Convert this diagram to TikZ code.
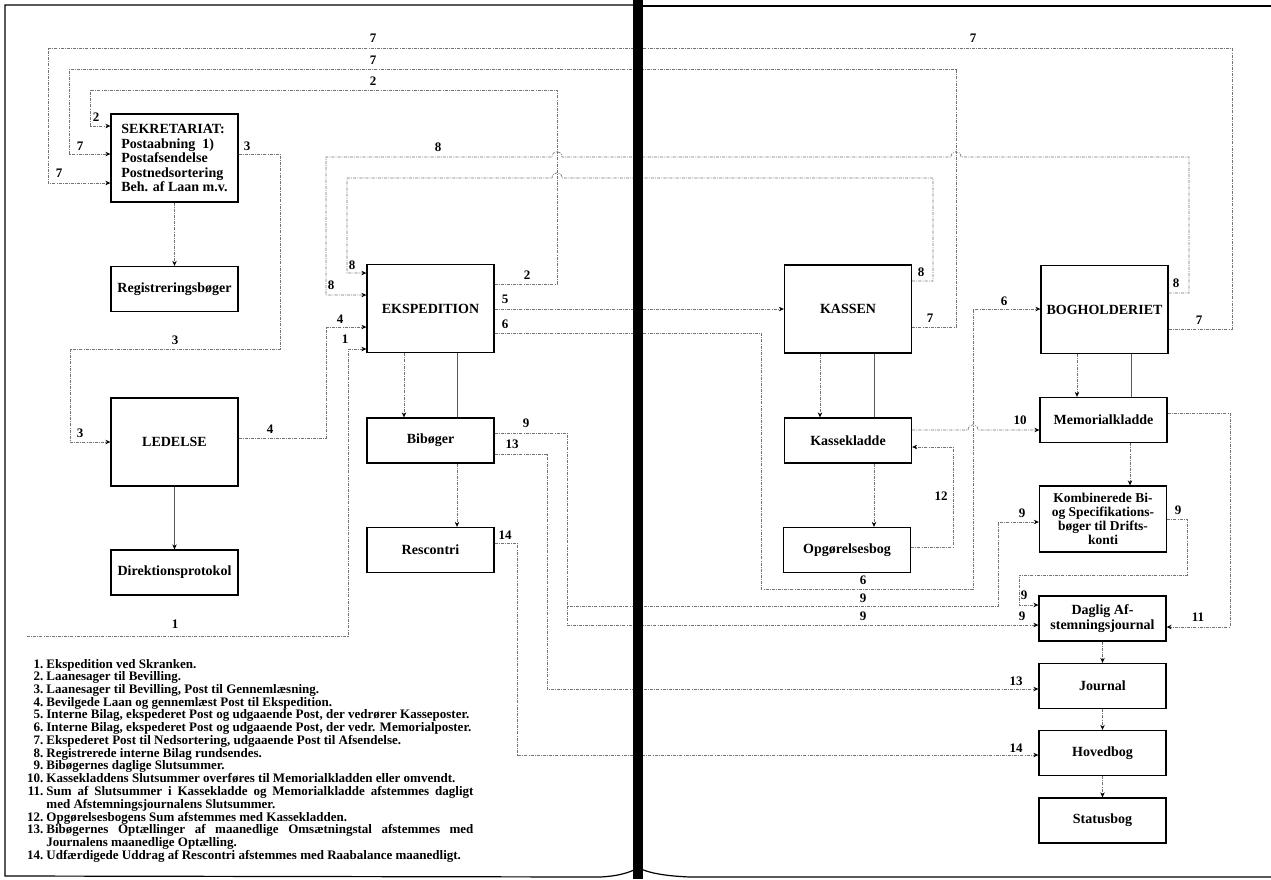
\documentclass[tikz,border=0pt]{standalone}
\usepackage{fontspec}
\setmainfont{Liberation Serif}
\usetikzlibrary{arrows.meta}

\tikzset{
  box/.style={draw, line width=1.3pt, minimum width=127pt, minimum height=45pt,
    inner sep=2pt, align=center, font=\fontsize{14}{14.5}\selectfont\bfseries},
  bigbox/.style={box, minimum height=88pt},
  flow/.style={black!55, line width=0.7pt, dash pattern=on 3pt off 1.2pt on 0.8pt off 1.2pt},
  link/.style={black!65, line width=0.7pt},
  pointer/.style={-{Stealth[length=5pt,width=4.5pt,color=black]}},
  num/.style={font=\fontsize{13}{13}\selectfont\bfseries, inner sep=0pt},
  frame/.style={line width=1.2pt},
}

\newlength{\lgw}
\setlength{\lgw}{427pt}

\begin{document}
\begin{tikzpicture}[x=1pt,y=-1pt]
  \useasboundingbox (0,0) rectangle (1271,879);
  \fill[white] (0,0) rectangle (1271,879);

  % pages
  \draw[frame] (633,5) -- (5,5) -- (5,876) -- (600,877) .. controls (620,876) and (630,872) .. (636,869);
  \draw[frame] (643,6) -- (1271,6);
  \draw[frame] (641,869) .. controls (650,873) and (665,876) .. (690,877) -- (1271,877);

  % left page
  \node[bigbox, align=left] (sekr) at (174.5,158) {SEKRETARIAT:\\Postaabning\ \ 1)\\Postafsendelse\\Postnedsortering\\Beh. af Laan m.v.};
  \node[box] (reg) at (174.5,289) {Registreringsbøger};
  \node[bigbox] (led) at (174.5,442) {LEDELSE};
  \node[box] (dir) at (174.5,572.5) {Direktionsprotokol};
  \node[bigbox] (eksp) at (430.5,308.5) {EKSPEDITION};
  \node[box] (bib) at (430.5,440.5) {Bibøger};
  \node[box] (resc) at (430.5,550) {Rescontri};

  % right page
  \node[bigbox] (kassen) at (848,309) {KASSEN};
  \node[box] (kladde) at (848,440.5) {Kassekladde};
  \node[box] (opg) at (847,550) {Opgørelsesbog};
  \node[bigbox] (bogh) at (1104.5,309.5) {BOGHOLDERIET};
  \node[box] (memo) at (1103.5,420) {Memorialkladde};
  \node[box, minimum height=66pt, font=\fontsize{13.5}{14}\selectfont\bfseries] (komb) at (1103,519) {Kombinerede Bi-\\og Specifikations-\\bøger til Drifts-\\konti};
  \node[box] (dag) at (1102.5,618.5) {Daglig Af-\\stemningsjournal};
  \node[box] (journal) at (1102.5,686) {Journal};
  \node[box] (hoved) at (1102.5,753) {Hovedbog};
  \node[box] (status) at (1102.5,820.5) {Statusbog};

  \coordinate (skranke) at (27,636);
  \coordinate (b9) at (567,606);

  % flows
  \draw[flow,pointer] (bogh.east |- 0,329) -| (1232,48) -| (48,183) -- (sekr.west |- 0,183);
  \draw[flow,pointer] (kassen.east |- 0,327) -| (956,69) -| (69,154) -- (sekr.west |- 0,154);
  \draw[flow,pointer] (eksp.east |- 0,284) -| (557,90) -| (90,126) -- (sekr.west |- 0,126);
  \draw[flow,pointer] (bogh.east |- 0,293) -| (1189,157) -- (961,157)
    .. controls (961,150) and (951,150) .. (951,157) -- (562,157)
    .. controls (562,150) and (552,150) .. (552,157) -| (326,295) -- (eksp.west |- 0,295);
  \draw[flow,pointer] (kassen.east |- 0,281) -| (933,178) -- (562,178)
    .. controls (562,171) and (552,171) .. (552,178) -| (347,273) -- (eksp.west |- 0,273);
  \draw[flow,pointer] (sekr.east |- 0,154) -| (280,349) -| (70,442) -- (led.west |- 0,442);
  \draw[flow,pointer] (led.east |- 0,438) -| (326,327) -- (eksp.west |- 0,327);
  \draw[flow,pointer] (skranke) -| (348,349) -- (eksp.west |- 0,349);
  \draw[flow,pointer] (eksp.east |- 0,309) -- (kassen.west |- 0,309);
  \draw[flow,pointer] (eksp.east |- 0,333) -| (761,589) -| (973,309) -- (bogh.west |- 0,309);
  \draw[flow,pointer] (kladde.east |- 0,430) -- (968,430)
    .. controls (968,423) and (978,423) .. (978,430) -- (memo.west |- 0,430);
  \draw[flow,pointer] (opg.east |- 0,547) -| (953,447) -- (kladde.east |- 0,447);
  \draw[flow,pointer] (bib.east |- 0,433) -| (b9) -| (998,522) -- (komb.west |- 0,522);
  \draw[flow,pointer] (b9) |- (dag.west |- 0,625);
  \draw[flow,pointer] (komb.east |- 0,519) -| (1187,575) -| (1019,605) -- (dag.west |- 0,605);
  \draw[flow,pointer] (memo.east |- 0,413) -| (1230,627) -- (dag.east |- 0,627);
  \draw[flow,pointer] (bib.east |- 0,454) -| (547,689) -- (journal.west |- 0,689);
  \draw[flow,pointer] (resc.east |- 0,543) -| (517,755) -- (hoved.west |- 0,755);

  % downward
  \draw[flow,pointer] (sekr.south) -- (reg.north);
  \draw[link,pointer] (led.south) -- (dir.north);
  \draw[flow,pointer] (eksp.south -| 404,0) -- (bib.north -| 404,0);
  \draw[link] (eksp.south -| 457,0) -- (bib.north -| 457,0);
  \draw[flow,pointer] (bib.south -| 457,0) -- (resc.north -| 457,0);
  \draw[flow,pointer] (kassen.south -| 820,0) -- (kladde.north -| 820,0);
  \draw[link] (kassen.south -| 874,0) -- (kladde.north -| 874,0);
  \draw[flow,pointer] (kladde.south -| 874,0) -- (opg.north -| 874,0);
  \draw[flow,pointer] (bogh.south -| 1077,0) -- (memo.north -| 1077,0);
  \draw[link] (bogh.south -| 1131,0) -- (memo.north -| 1131,0);
  \draw[flow,pointer] (memo.south -| 1130,0) -- (komb.north -| 1130,0);
  \draw[flow,pointer] (dag.south) -- (journal.north);
  \draw[flow,pointer] (journal.south) -- (hoved.north);
  \draw[flow,pointer] (hoved.south) -- (status.north);

  % numbers
  \node[num] at (373,38) {7};
  \node[num] at (373,60) {7};
  \node[num] at (373,81) {2};
  \node[num] at (973,38) {7};
  \node[num] at (59,173) {7};
  \node[num] at (80,146) {7};
  \node[num] at (96,117) {2};
  \node[num] at (247,146) {3};
  \node[num] at (438,147) {8};
  \node[num] at (527,275) {2};
  \node[num] at (352,265) {8};
  \node[num] at (331,285) {8};
  \node[num] at (505,299) {5};
  \node[num] at (505,324) {6};
  \node[num] at (340,319) {4};
  \node[num] at (345,339) {1};
  \node[num] at (175,340) {3};
  \node[num] at (80,433) {3};
  \node[num] at (270,429) {4};
  \node[num] at (175,624) {1};
  \node[num] at (526,423) {9};
  \node[num] at (512,444) {13};
  \node[num] at (505,535) {14};
  \node[num] at (921,272) {8};
  \node[num] at (930,318) {7};
  \node[num] at (1176,283) {8};
  \node[num] at (1199,320) {7};
  \node[num] at (1004,301) {6};
  \node[num] at (1020,420) {10};
  \node[num] at (941,496) {12};
  \node[num] at (1022,513) {9};
  \node[num] at (1178,510) {9};
  \node[num] at (863,580) {6};
  \node[num] at (863,598) {9};
  \node[num] at (863,616) {9};
  \node[num] at (1024,595) {9};
  \node[num] at (1022,616) {9};
  \node[num] at (1198,617) {11};
  \node[num] at (1016,681) {13};
  \node[num] at (1016,748) {14};

  % legend
  \node[anchor=north west, inner sep=0pt, font=\fontsize{13}{12.2}\selectfont\bfseries] (legend) at (27,659) {%
    \begin{tabular}{@{}r@{\hspace{3pt}}l@{}}
      1. & Ekspedition ved Skranken.\\
      2. & Laanesager til Bevilling.\\
      3. & Laanesager til Bevilling, Post til Gennemlæsning.\\
      4. & Bevilgede Laan og gennemlæst Post til Ekspedition.\\
      5. & Interne Bilag, ekspederet Post og udgaaende Post, der vedrører Kasseposter.\\
      6. & Interne Bilag, ekspederet Post og udgaaende Post, der vedr. Memorialposter.\\
      7. & Ekspederet Post til Nedsortering, udgaaende Post til Afsendelse.\\
      8. & Registrerede interne Bilag rundsendes.\\
      9. & Bibøgernes daglige Slutsummer.\\
      10. & Kassekladdens Slutsummer overføres til Memorialkladden eller omvendt.\\
      11. & \makebox[\lgw][s]{Sum af Slutsummer i Kassekladde og Memorialkladde afstemmes dagligt}\\
          & med Afstemningsjournalens Slutsummer.\\
      12. & Opgørelsesbogens Sum afstemmes med Kassekladden.\\
      13. & \makebox[\lgw][s]{Bibøgernes Optællinger af maanedlige Omsætningstal afstemmes med}\\
          & Journalens maanedlige Optælling.\\
      14. & Udfærdigede Uddrag af Rescontri afstemmes med Raabalance maanedligt.
    \end{tabular}};

  % spine
  \fill (633,0) rectangle (643,879);
\end{tikzpicture}
\end{document}
